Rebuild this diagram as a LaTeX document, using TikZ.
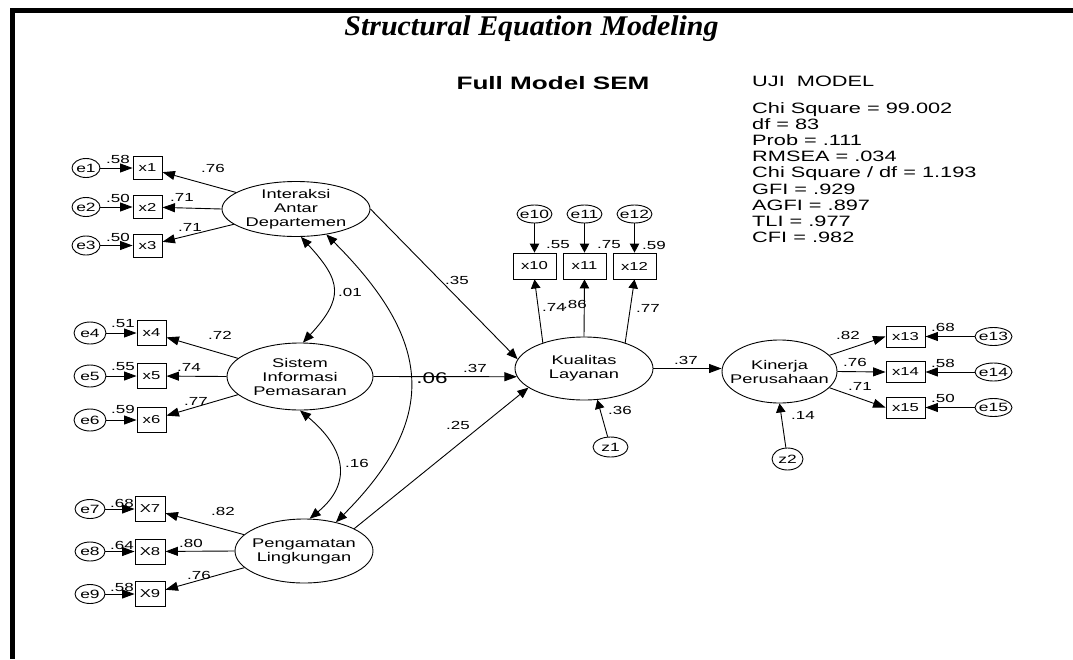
\documentclass[tikz,border=0pt]{standalone}
\usepackage{fontspec}
\setmainfont{Liberation Sans}[FakeStretch=1.45]
\newfontfamily\titlefont{Liberation Serif}[FakeStretch=1.05]
\usetikzlibrary{arrows.meta,shapes.geometric}
\tikzset{
  wire/.style={line width=0.9pt},
  arH/.style={wire,-{Triangle[length=12.5pt,width=9pt]}},
  arV/.style={wire,-{Triangle[length=9pt,width=9.5pt]}},
  arD/.style={wire,-{Triangle[length=11pt,width=9pt]}},
  arC/.style={wire,{Triangle[length=11pt,width=9pt]}-{Triangle[length=11pt,width=9pt]}},
  obs/.style={draw,line width=0.9pt,rectangle,inner sep=0pt,font=\fontsize{11.5}{13}\selectfont},
  err/.style={draw,line width=0.9pt,ellipse,inner sep=0pt},
  errtxt/.style={inner sep=0pt,font=\fontsize{12}{14}\selectfont},
  lat/.style={draw,line width=0.9pt,ellipse,inner sep=0pt},
  lattxt/.style={inner sep=0pt,align=center,font=\fontsize{12.6}{14}\selectfont},
  num/.style={inner sep=0pt,font=\fontsize{11.7}{13}\selectfont},
  stat/.style={inner sep=0pt,anchor=base west,font=\fontsize{15}{16.2}\selectfont},
}
\begin{document}
\begin{tikzpicture}[x=1pt,y=-1pt]
\useasboundingbox (0,0) rectangle (1073,659);
% page frame
\fill (10,7.5) rectangle (1073,12.5);
\fill (10,7.5) rectangle (14.5,659);

% headings
\node[inner sep=0pt,anchor=base,font=\titlefont\fontsize{28.5}{30}\selectfont\bfseries\itshape] (title) at (531.5,35) {Structural Equation Modeling};
\node[inner sep=0pt,anchor=base,font=\fontsize{18}{20}\selectfont\bfseries] (sub) at (553,89) {Full Model SEM};

% fit statistics
\node[stat] (s0) at (752,86) {UJI\ \ MODEL};
\node[stat] (s1) at (752,113) {Chi Square = 99.002};
\node[stat] (s2) at (752,129.2) {df = 83};
\node[stat] (s3) at (752,145.4) {Prob = .111};
\node[stat] (s4) at (752,161.6) {RMSEA = .034};
\node[stat] (s5) at (752,177.8) {Chi Square / df = 1.193};
\node[stat] (s6) at (752,194) {GFI = .929};
\node[stat] (s7) at (752,210.2) {AGFI = .897};
\node[stat] (s8) at (752,226.4) {TLI = .977};
\node[stat] (s9) at (752,242.6) {CFI = .982};

% latent variables
\node[lat,minimum width=148pt,minimum height=55pt,label={[lattxt]center:{Interaksi\\Antar\\Departemen}}] (Int) at (296,209) {};
\node[lat,minimum width=146pt,minimum height=67pt,label={[lattxt]center:{Sistem\\Informasi\\Pemasaran}}] (Sis) at (300,376.5) {};
\node[lat,minimum width=138pt,minimum height=64pt,label={[lattxt]center:{Pengamatan\\Lingkungan}}] (Pen) at (304,551) {};
\node[lat,minimum width=138pt,minimum height=63pt,label={[lattxt]center:{Kualitas\\Layanan}}] (Kua) at (584,368.5) {};
\node[lat,minimum width=115pt,minimum height=63pt,label={[lattxt]center:{Kinerja\\Perusahaan}}] (Kin) at (779.5,371.5) {};

% indicators, group 1
\node[obs,minimum width=29pt,minimum height=23pt] (x1) at (147.5,168) {x1};
\node[obs,minimum width=29pt,minimum height=23pt] (x2) at (147.5,207) {x2};
\node[obs,minimum width=29pt,minimum height=23pt] (x3) at (147.5,245.5) {x3};
\node[err,minimum width=28pt,minimum height=19pt,label={[errtxt]center:e1}] (e1) at (86,168) {};
\node[err,minimum width=28pt,minimum height=19pt,label={[errtxt]center:e2}] (e2) at (86,207) {};
\node[err,minimum width=28pt,minimum height=19pt,label={[errtxt]center:e3}] (e3) at (86,245.5) {};
% group 2
\node[obs,minimum width=29pt,minimum height=25pt] (x4) at (151.5,333) {x4};
\node[obs,minimum width=29pt,minimum height=25pt] (x5) at (151.5,376) {x5};
\node[obs,minimum width=29pt,minimum height=25pt] (x6) at (151.5,420) {x6};
\node[err,minimum width=32pt,minimum height=22pt,label={[errtxt]center:e4}] (e4) at (90,333) {};
\node[err,minimum width=32pt,minimum height=22pt,label={[errtxt]center:e5}] (e5) at (90,376) {};
\node[err,minimum width=32pt,minimum height=22pt,label={[errtxt]center:e6}] (e6) at (90,420) {};
% group 3
\node[obs,minimum width=30pt,minimum height=25pt] (x7) at (150,509) {X7};
\node[obs,minimum width=30pt,minimum height=25pt] (x8) at (150,551.5) {X8};
\node[obs,minimum width=30pt,minimum height=25pt] (x9) at (150,594) {X9};
\node[err,minimum width=30pt,minimum height=19pt,label={[errtxt]center:e7}] (e7) at (90,509) {};
\node[err,minimum width=30pt,minimum height=19pt,label={[errtxt]center:e8}] (e8) at (90,551.5) {};
\node[err,minimum width=30pt,minimum height=19pt,label={[errtxt]center:e9}] (e9) at (90,594) {};
% group 4
\node[obs,minimum width=43pt,minimum height=26pt] (x10) at (534.5,266) {x10};
\node[obs,minimum width=43pt,minimum height=26pt] (x11) at (584.5,266) {x11};
\node[obs,minimum width=43pt,minimum height=26pt] (x12) at (634.5,266) {x12};
\node[err,minimum width=35pt,minimum height=18pt,label={[errtxt]center:e10}] (e10) at (534.5,214) {};
\node[err,minimum width=35pt,minimum height=18pt,label={[errtxt]center:e11}] (e11) at (584.5,214) {};
\node[err,minimum width=35pt,minimum height=18pt,label={[errtxt]center:e12}] (e12) at (634.5,214) {};
% group 5
\node[obs,minimum width=39pt,minimum height=21pt] (x13) at (905.5,336.5) {x13};
\node[obs,minimum width=39pt,minimum height=21pt] (x14) at (905.5,372) {x14};
\node[obs,minimum width=39pt,minimum height=21pt] (x15) at (905.5,407.5) {x15};
\node[err,minimum width=37pt,minimum height=18pt,label={[errtxt]center:e13}] (e13) at (993.5,336.5) {};
\node[err,minimum width=37pt,minimum height=18pt,label={[errtxt]center:e14}] (e14) at (993.5,372) {};
\node[err,minimum width=37pt,minimum height=18pt,label={[errtxt]center:e15}] (e15) at (993.5,407.5) {};
% disturbances
\node[err,minimum width=35pt,minimum height=20pt,label={[errtxt]center:z1}] (z1) at (610.5,447) {};
\node[err,minimum width=31pt,minimum height=22pt,label={[errtxt]center:z2}] (z2) at (787.5,459) {};

% measurement errors
\foreach \i in {1,...,9} { \draw[arH] (e\i) -- (x\i); }
\foreach \i in {10,11,12} { \draw[arV] (e\i) -- (x\i); }
\foreach \i in {13,14,15} { \draw[arH] (e\i) -- (x\i); }

% loadings
\draw[arH] (Int) -- (x1);
\draw[arH] (Int.west) -- (x2);
\draw[arH] (Int) -- (x3);
\draw[arH] (Sis) -- (x4);
\draw[arH] (Sis.west) -- (x5);
\draw[arH] (Sis) -- (x6);
\draw[arH] (Pen) -- (x7);
\draw[arH] (Pen.west) -- (x8);
\draw[arH] (Pen) -- (x9);
\draw[arV] (Kua.148) -- (x10.south);
\draw[arV] (Kua.north) -- (x11.south);
\draw[arV] (Kua.32) -- (x12.south);
\draw[arH] (Kin.18) -- (x13.west);
\draw[arH] (Kin.east) -- (x14.west);
\draw[arH] (Kin.342) -- (x15.west);

% structural paths
\draw[arD] (Int.east) -- (Kua.172);
\draw[arH] (Sis.east) -- (Kua.187);
\draw[arD] (Pen.24) -- (Kua.199);
\draw[arH] (Kua.east) -- (Kin.west |- Kua.east);
\draw[arV] (z1) -- (Kua.293);
\draw[arV] (z2) -- (Kin.south);

% covariances
\draw[arC] (Int.-80) .. controls (342,281.5) and (344,298) .. (Sis.85);
\draw[arC] (Sis.-90) .. controls (344,447) and (354,482) .. (Pen.80);
\draw[arC] (Int.-40) .. controls (431,339) and (441,417) .. (Pen.42);

% estimates
\node[num] (n1) at (118,159) {.58};
\node[num] (n2) at (118,198) {.50};
\node[num] (n3) at (118,237) {.50};
\node[num] (n4) at (213,168) {.76};
\node[num] (n5) at (182,197) {.71};
\node[num] (n6) at (190,227) {.71};
\node[num] (n7) at (123,324) {.51};
\node[num] (n8) at (123,367) {.55};
\node[num] (n9) at (123,409) {.59};
\node[num] (n10) at (220,335) {.72};
\node[num] (n11) at (189,367) {.74};
\node[num] (n12) at (196,401) {.77};
\node[num] (n13) at (122,503) {.68};
\node[num] (n14) at (122,545) {.64};
\node[num] (n15) at (122,587) {.58};
\node[num] (n16) at (223,511) {.82};
\node[num] (n17) at (191,543) {.80};
\node[num] (n18) at (199,575) {.76};
\node[num] (n19) at (350,292) {.01};
\node[num] (n20) at (357,463) {.16};
\node[num] (n21) at (457,280) {.35};
\node[num] (n22) at (475,368) {.37};
\node[inner sep=0pt,font=\fontsize{15.5}{17}\selectfont] (n23) at (432,378) {.06};
\node[num] (n24) at (458,425) {.25};
\node[num] (n25) at (558,245) {.55};
\node[num] (n26) at (609,245) {.75};
\node[num] (n27) at (654,245) {.59};
\node[num] (n28) at (554,307) {.74};
\node[num] (n29) at (575,304) {.86};
\node[num] (n30) at (648,308) {.77};
\node[num] (n31) at (620,410) {.36};
\node[num] (n32) at (686,360) {.37};
\node[num] (n33) at (848,335) {.82};
\node[num] (n34) at (855,362) {.76};
\node[num] (n35) at (860,386) {.71};
\node[num] (n36) at (943,327) {.68};
\node[num] (n37) at (943,363) {.58};
\node[num] (n38) at (943,398) {.50};
\node[num] (n39) at (803,415) {.14};
\end{tikzpicture}
\end{document}
